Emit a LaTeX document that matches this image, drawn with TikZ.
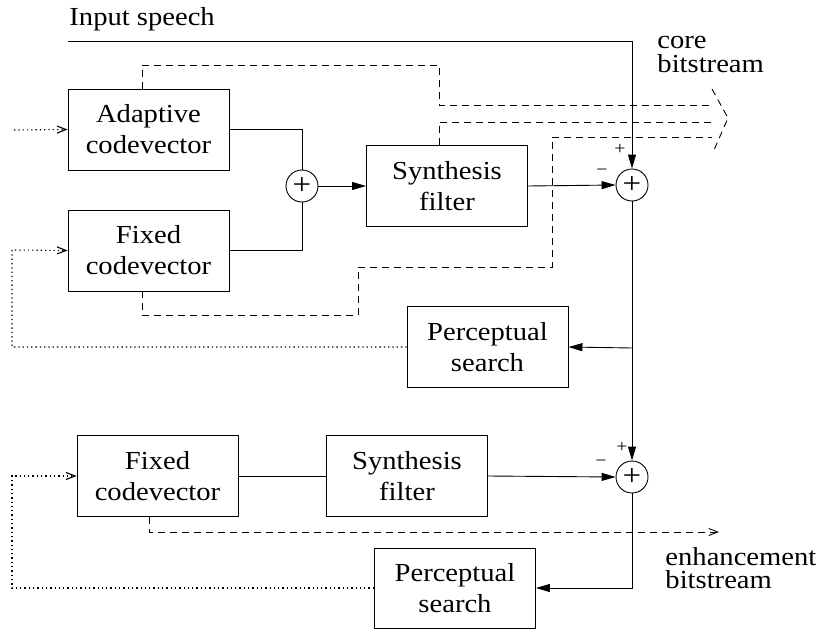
\documentclass[tikz,border=0pt]{standalone}
\usepackage{fontspec}
\setmainfont{Liberation Serif}[FakeStretch=1.1]
\usetikzlibrary{arrows.meta}
\begin{document}
\begin{tikzpicture}[x=1pt,y=-1pt,
  line width=0.9pt,
  blk/.style={draw, minimum width=161pt, minimum height=81pt, align=center, inner sep=0pt, font=\fontsize{26}{31}\selectfont},
  sumnode/.style={draw, circle, minimum size=32pt, inner sep=0pt, font=\fontsize{30}{30}\selectfont},
  arr/.style={-{Triangle[length=14pt,width=8pt]}},
  oarr/.style={-{Straight Barb[length=9pt,width=7pt]}},
  dsh/.style={dash pattern=on 7pt off 5pt},
  dotln/.style={line width=1.1pt, dash pattern=on 1.3pt off 3pt},
  sgn/.style={font=\fontsize{18}{18}\selectfont, inner sep=0pt},
  lbl/.style={font=\fontsize{26}{24}\selectfont, align=left, inner sep=0pt}
]
\useasboundingbox (0,0) rectangle (822,629);

% blocks
\node[blk] (adapt)  at (148.5,129.5) {Adaptive\\codevector};
\node[blk] (fixed1) at (148.5,250.5) {Fixed\\codevector};
\node[blk] (synth1) at (447,186) {Synthesis\\filter};
\node[blk] (ps1)    at (487.5,347) {Perceptual\\search};
\node[blk] (fixed2) at (157.5,476) {Fixed\\codevector};
\node[blk] (synth2) at (407,476) {Synthesis\\filter};
\node[blk, minimum height=80pt] (ps2) at (455,588) {Perceptual\\search};

\node[sumnode] (suma) at (302,186) {+};
\node[sumnode] (sum1) at (632,185) {+};
\node[sumnode] (sum2) at (632,477) {+};

% texts
\node[lbl, anchor=base west] (inlbl) at (69,25) {Input speech};
\node[lbl, anchor=base west] (core) at (657,72) {core\\bitstream};
\node[lbl, anchor=base west, font=\fontsize{26}{23}\selectfont] (enh) at (665,588) {enhancement\\bitstream};
\node[sgn] (p1) at (620,149) {+};
\node[sgn] (m1) at (602,172) {−};
\node[sgn] (p2) at (622,447) {+};
\node[sgn] (m2) at (601,463) {−};

% coordinates
\coordinate (in) at (68,41);
\coordinate (ain) at (14,130);
\coordinate (fb1) at (12,250);
\coordinate (fb2) at (12,476);
\coordinate (br1) at (632,348);
\coordinate (cbA) at (712,105);
\coordinate (cbB) at (712,122);
\coordinate (cbC) at (712,137);
\coordinate (chA) at (712,89);
\coordinate (chB) at (728,118);
\coordinate (chC) at (714,150);
\coordinate (enhend) at (719,532);

% solid signal paths
\draw[arr] (in) -| (sum1.north);
\draw (adapt.east) -| (suma.north);
\draw (fixed1.east) -| (suma.south);
\draw[arr] (suma.east) -- (synth1.west);
\draw[arr] (synth1.east) -- (sum1.west);
\draw[arr] (sum1.south) -- (sum2.north);
\draw[arr] (br1) -- (ps1.east);
\draw (fixed2.east) -- (synth2.west);
\draw[arr] (synth2.east) -- (sum2.west);
\draw[arr] (sum2.south) |- (ps2.east);

% dotted feedback paths
\draw[dotln, oarr] (ain) -- (adapt.west);
\draw[dotln, oarr] (ps1.west) -| (fb1) -- (fixed1.west);
\draw[dotln, oarr] (ps2.west) -| (fb2) -- (fixed2.west);

% dashed bitstream paths
\draw[dsh] ([xshift=-6.5pt]adapt.north) |- (439,65) |- (cbA);
\draw[dsh] ([xshift=-8pt]synth1.north) |- (cbB);
\draw[dsh] ([xshift=-6.5pt]fixed1.south) |- (358,315) |- (552,267) |- (cbC);
\draw[dsh] (chA) -- (chB) -- (chC);
\draw[dsh, oarr] ([xshift=-8.5pt]fixed2.south) |- (enhend);
\end{tikzpicture}
\end{document}
